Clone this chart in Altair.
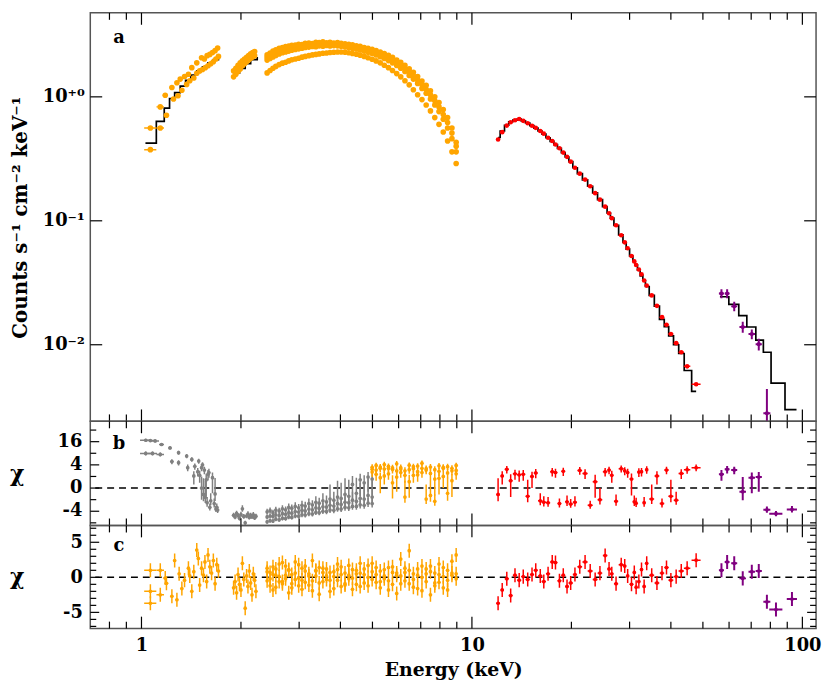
import altair as alt
import pandas as pd

# ---------------- panel a : folded spectra (counts s^-1 cm^-2 keV^-1) ----------------
low_a_E = [1.064, 1.14, 1.18, 1.236, 1.28, 1.31, 1.35, 1.387, 1.42, 1.47, 1.52, 1.55, 1.58, 1.61, 1.64, 1.67, 1.70]
low_a_F = [0.56, 0.83, 1.03, 1.19, 1.30, 1.39, 1.46, 1.52, 1.72, 1.88, 2.07, 2.02, 2.15, 2.20, 2.28, 2.36, 2.48]
low_a_xerr = [0.045, 0.03, 0.02, 0.015, 0.012, 0.012, 0.012, 0.012, 0.01, 0.01, 0.01, 0.01, 0.01, 0.01, 0.01, 0.01, 0.01]
low_b_E = [1.064, 1.14, 1.19, 1.25, 1.29, 1.325, 1.37, 1.40, 1.44, 1.47, 1.50, 1.53, 1.56, 1.59, 1.62, 1.65, 1.68, 1.71]
low_b_F = [0.375, 0.56, 0.71, 0.96, 1.02, 1.13, 1.26, 1.35, 1.42, 1.55, 1.62, 1.66, 1.72, 1.78, 1.85, 1.92, 2.02, 2.12]
low_b_xerr = [0.045, 0.03, 0.02, 0.015, 0.012, 0.012, 0.012, 0.012, 0.01, 0.01, 0.01, 0.01, 0.01, 0.01, 0.01, 0.01, 0.01, 0.01]

mid_E = [1.90, 1.93, 1.96, 1.99, 2.02, 2.05, 2.08, 2.11, 2.14, 2.17, 2.20]
mid_a_F = [1.62, 1.70, 1.80, 1.88, 1.95, 2.02, 2.08, 2.15, 2.22, 2.28, 2.32]
mid_b_F = [1.45, 1.52, 1.60, 1.68, 1.78, 1.85, 1.92, 1.98, 2.05, 2.10, 2.15]

main_E = [2.40, 2.45, 2.50, 2.55, 2.61, 2.67, 2.73, 2.79, 2.85, 2.92, 2.99, 3.06, 3.13, 3.21, 3.29, 3.37,
          3.45, 3.54, 3.63, 3.72, 3.82, 3.92, 4.02, 4.13, 4.24, 4.35, 4.47, 4.59, 4.72, 4.85, 4.99, 5.13,
          5.28, 5.43, 5.59, 5.75, 5.92, 6.09, 6.27, 6.46, 6.65, 6.85, 7.06, 7.27, 7.49, 7.72, 7.95, 8.19,
          8.44, 8.70, 8.96]
main_a_F = [2.18, 2.26, 2.34, 2.40, 2.46, 2.50, 2.54, 2.57, 2.60, 2.62, 2.66, 2.64, 2.70, 2.72, 2.69, 2.75,
            2.74, 2.78, 2.73, 2.76, 2.72, 2.74, 2.70, 2.68, 2.66, 2.63, 2.58, 2.56, 2.50, 2.46, 2.42, 2.36,
            2.30, 2.24, 2.16, 2.08, 1.98, 1.90, 1.80, 1.68, 1.58, 1.46, 1.34, 1.24, 1.12, 1.00, 0.90, 0.79,
            0.68, 0.56, 0.43]
main_d_F = [2.08, 2.17, 2.22, 2.30, 2.33, 2.40, 2.42, 2.47, 2.49, 2.53, 2.55, 2.57, 2.60, 2.63, 2.62, 2.66,
            2.65, 2.69, 2.66, 2.68, 2.65, 2.67, 2.63, 2.61, 2.58, 2.56, 2.51, 2.48, 2.42, 2.38, 2.33, 2.27,
            2.20, 2.14, 2.06, 1.98, 1.89, 1.80, 1.70, 1.59, 1.48, 1.37, 1.26, 1.15, 1.04, 0.93, 0.83, 0.72,
            0.62, 0.51, 0.40]
main_b_F = [1.98, 2.04, 2.10, 2.16, 2.22, 2.27, 2.30, 2.34, 2.38, 2.41, 2.44, 2.47, 2.50, 2.52, 2.55, 2.54,
            2.58, 2.56, 2.60, 2.57, 2.59, 2.58, 2.56, 2.53, 2.50, 2.47, 2.43, 2.39, 2.34, 2.29, 2.24, 2.18,
            2.11, 2.04, 1.96, 1.88, 1.79, 1.70, 1.60, 1.49, 1.39, 1.28, 1.17, 1.07, 0.96, 0.86, 0.76, 0.66,
            0.56, 0.46, 0.36]
main_c_F = [1.56, 1.63, 1.70, 1.76, 1.82, 1.87, 1.90, 1.95, 1.99, 2.02, 2.05, 2.09, 2.12, 2.15, 2.18, 2.20,
            2.22, 2.25, 2.26, 2.28, 2.29, 2.30, 2.30, 2.29, 2.27, 2.24, 2.21, 2.17, 2.12, 2.07, 2.01, 1.95,
            1.88, 1.80, 1.72, 1.63, 1.54, 1.45, 1.35, 1.25, 1.14, 1.04, 0.95, 0.86, 0.77, 0.68, 0.60, 0.52,
            0.44, 0.36, 0.29]

red_E = [12.0, 12.35, 12.75, 13.1, 13.5, 13.9, 14.3, 14.75, 15.2, 15.6, 16.1, 16.5, 17.0, 17.5, 17.9, 18.4,
         18.9, 19.4, 19.9, 20.5, 21.2, 22.0, 22.8, 23.6, 24.4, 25.3, 26.0, 26.5, 27.3, 28.3, 29.0, 29.6,
         30.4, 31.0, 31.4, 32.0, 32.6, 33.2, 33.8, 35.0, 36.3, 37.6, 38.8, 40.0, 41.5, 43.0, 44.8, 47.7]
red_F = [0.453, 0.519, 0.586, 0.624, 0.648, 0.663, 0.640, 0.612, 0.585, 0.562, 0.530, 0.505, 0.468, 0.440,
         0.413, 0.385, 0.355, 0.328, 0.300, 0.268, 0.240, 0.215, 0.190, 0.167, 0.148, 0.130, 0.115, 0.105,
         0.092, 0.0765, 0.067, 0.060, 0.052, 0.047, 0.044, 0.0405, 0.037, 0.033, 0.030, 0.025, 0.0206,
         0.0167, 0.0145, 0.0122, 0.0103, 0.0087, 0.0067, 0.0048]
red_xerr = [0.15, 0.15, 0.18, 0.18, 0.2, 0.2, 0.2, 0.22, 0.22, 0.22, 0.25, 0.25, 0.25, 0.25, 0.25, 0.25,
            0.25, 0.25, 0.3, 0.3, 0.35, 0.4, 0.4, 0.4, 0.4, 0.4, 0.3, 0.3, 0.4, 0.5, 0.3, 0.3,
            0.4, 0.3, 0.2, 0.3, 0.3, 0.3, 0.3, 0.6, 0.6, 0.6, 0.6, 0.7, 0.7, 0.8, 1.0, 1.5]
red_model_F = [0.47, 0.53, 0.59, 0.63, 0.65, 0.66, 0.64, 0.615, 0.585, 0.56, 0.53, 0.50, 0.468, 0.438,
               0.412, 0.384, 0.355, 0.327, 0.300, 0.268, 0.240, 0.214, 0.190, 0.168, 0.148, 0.130, 0.116,
               0.105, 0.092, 0.077, 0.067, 0.059, 0.052, 0.047, 0.044, 0.040, 0.036, 0.033, 0.0295, 0.025,
               0.0205, 0.0160, 0.0140, 0.0118, 0.0100, 0.0085, 0.0062, 0.0042]

pur_E = [56.9, 59.2, 62.2, 66.0, 70.3, 73.8, 78.1, 83.2, 93.0]
pur_F = [0.0259, 0.0259, 0.0204, 0.0139, 0.0122, 0.0101, 0.0028, 0.0016, 0.0012]
pur_Ferr = [0.0022, 0.0022, 0.0018, 0.0014, 0.0011, 0.0011, 0.0016, 0.0007, 0.0005]
pur_xerr = [1.0, 1.0, 1.3, 1.5, 1.6, 1.6, 1.9, 3.8, 3.3]

low_model_E = [1.028, 1.109, 1.172, 1.216, 1.26, 1.31, 1.36, 1.41, 1.47, 1.53, 1.59, 1.65, 1.71]
low_model_F = [0.424, 0.635, 0.81, 0.97, 1.08, 1.22, 1.36, 1.50, 1.62, 1.75, 1.88, 2.00, 2.10]
mid_model_E = [1.90, 1.98, 2.06, 2.14, 2.24]
mid_model_F = [1.55, 1.70, 1.85, 2.00, 2.10]
pur_model_E = [56.3, 59.9, 64.2, 67.9, 72.3, 76.2, 80.4, 88.6, 96.0]
pur_model_F = [0.0244, 0.0212, 0.0172, 0.0139, 0.0109, 0.0087, 0.0049, 0.0030, 0.0030]

# ---------------- panel b : residuals (chi), sqrt-like scale ----------------
b_low_E = [1.03, 1.064, 1.10, 1.15, 1.22, 1.295, 1.37, 1.42, 1.49, 1.52, 1.59, 1.67, 1.69,
           1.03, 1.08, 1.14, 1.236, 1.295, 1.38, 1.44, 1.52, 1.56, 1.61,
           1.45, 1.48, 1.50, 1.53, 1.55, 1.57, 1.60, 1.62, 1.64, 1.66, 1.68, 1.70, 1.54, 1.58]
b_low_chi = [17.0, 16.8, 16.5, 14.1, 12.0, 9.3, 7.6, 6.1, 5.4, 3.1, 1.43, -0.26, -2.75,
             8.9, 8.9, 8.4, 5.2, 4.8, 3.1, 1.1, 0.0, -0.64, -2.75,
             3.5, 2.0, 1.2, 4.0, 2.4, 0.5, 1.8, -1.2, 0.8, -1.8, -3.3, -3.6, -0.3, -1.6]
b_low_xerr = [0.04, 0.035, 0.03, 0.02, 0.015, 0.012, 0.012, 0.01, 0.01, 0.01, 0.01, 0.01, 0.01,
              0.04, 0.035, 0.03, 0.015, 0.012, 0.012, 0.01, 0.01, 0.01, 0.01,
              0.01, 0.01, 0.01, 0.01, 0.01, 0.01, 0.01, 0.01, 0.01, 0.01, 0.01, 0.01, 0.01, 0.01]
chi_mid_E = [1.90, 1.92, 1.94, 1.96, 1.98, 2.00, 2.02, 2.04, 2.06, 2.08, 2.10, 2.12, 2.14, 2.16, 2.18, 2.20, 2.22]
b_mid_chi = [-5.5, -6.2, -4.8, -5.6, -6.8, -5.2, -3.2, -6.0, -9.0, -5.8, -5.0, -6.4, -5.5, -6.1, -5.3, -6.6, -5.9]
b_gray_1 = [-4.2, -3.8, -4.5, -3.6, -3.9, -3.2, -3.5, -2.8, -3.0, -2.5, -2.9, -2.2, -2.4, -1.8, -2.1, -1.5,
            -1.7, -1.2, -1.4, -0.9, -1.1, -0.6, -0.8, -0.3, -0.5, 0.1, -0.2, 0.5, 0.2, 0.9, 0.6]
b_gray_2 = [-6.2, -5.8, -6.0, -5.3, -5.6, -4.9, -5.1, -4.5, -4.7, -4.1, -4.3, -3.7, -3.9, -3.3, -3.5, -2.9,
            -3.1, -2.6, -2.7, -2.2, -2.4, -1.8, -2.0, -1.5, -1.6, -1.1, -1.3, -0.8, -0.9, -0.4, -0.6]
b_gray_3 = [-8.5, -7.9, -8.1, -7.2, -7.5, -6.8, -6.9, -6.2, -6.4, -5.8, -5.9, -5.3, -5.4, -4.9, -5.0, -4.4,
            -4.5, -4.0, -4.1, -3.6, -3.7, -3.2, -3.3, -2.8, -2.9, -2.5, -2.5, -2.1, -2.2, -1.7, -1.8]
b_or_1 = [3.2, 3.8, 2.9, 4.1, 3.5, 2.6, 4.4, 3.1, 1.2, 3.9, 2.8, 3.6, 4.6, 2.4, 3.3, 0.6, 3.7, 2.9, 3.4, 2.2, 3.8]
b_or_2 = [1.9, 2.4, 0.8, 2.7, 1.5, 0.2, 2.2, 1.8, -0.6, 2.5, 1.2, 2.0, 2.9, -0.9, 1.6, -1.3, 2.1, 1.0, 1.7, 0.4, 2.3]
b_or_3 = [2.6, 1.4, 3.3, 1.1, 2.9, 3.0, 0.9, 2.7, 2.2, 0.3, 3.4, 1.3, 1.8, 2.8, -0.4, 2.5, 0.7, 3.2, -0.2, 2.9, 1.5]
b_red_chi = [-0.3, 1.1, 2.6, 0.4, 1.5, 1.3, 1.4, -0.5, 1.0, 1.7, -1.2, -1.5, -1.6, 2.0, 1.8, -1.8,
             2.1, -1.4, -1.9, -1.5, 2.3, 1.6, -2.2, 0.3, -1.0, 2.0, 2.4, 1.2, -1.3, 2.8, 2.2, 1.8,
             0.6, -1.4, -1.7, 1.9, 2.0, -1.6, 2.5, -0.9, 1.1, -1.8, 2.4, -0.5, -1.1, 1.6, 2.5, 3.1]
b_pur_chi = [1.4, 2.6, 2.4, -0.1, 0.8, 0.9, -3.5, -4.9, -3.4]
b_tick_values = [16, 4, 0, -4]
b_tick_labels = ["16", "4", "0", "-4"]

# ---------------- panel c : residuals (chi), linear ----------------
c_low_E = [1.064, 1.064, 1.064, 1.14, 1.14, 1.18, 1.19, 1.236, 1.26, 1.28, 1.30, 1.325, 1.35, 1.387, 1.40, 1.42,
           1.44, 1.47, 1.486, 1.50, 1.52, 1.54, 1.556, 1.575, 1.59, 1.61, 1.63, 1.65, 1.67, 1.69, 1.71]
c_low_chi = [1.0, -2.0, -3.7, 1.0, -2.5, -0.1, -0.85, -2.7, 2.4, -3.2, 0.5, -1.6, -0.4, 1.3, 0.2, -2.0,
             0.8, 3.9, 2.7, -1.1, 1.3, 0.3, 2.2, -0.6, 3.2, 1.5, 0.6, 2.4, -0.9, 1.8, 0.9]
c_low_xerr = [0.045, 0.045, 0.045, 0.03, 0.03, 0.015, 0.015, 0.012, 0.012, 0.012, 0.01, 0.01, 0.01, 0.01, 0.01, 0.01,
              0.01, 0.01, 0.01, 0.01, 0.01, 0.01, 0.01, 0.01, 0.01, 0.01, 0.01, 0.01, 0.01, 0.01, 0.01]
c_mid_chi = [-1.5, -0.6, -2.2, 0.4, -1.0, -1.8, 2.0, -0.3, -4.4, 0.2, -1.3, 0.9, -0.8, -2.5, 0.5, -0.4, -2.0]
c_main_1 = [0.8, -1.2, 1.5, 0.3, -0.6, 2.1, -0.2, 1.0, -1.5, 0.6, 1.8, -0.4, 0.9, -1.1, 2.4, 0.2, -0.8, 1.3,
            -0.3, 0.7, -1.6, 1.1, 0.4, -0.9, 1.7, -0.1, 0.5, -1.3, 1.2, 0.0, 2.0, -0.7, 0.9, -0.2, 1.4, -1.0,
            0.6, 2.6, -0.5, 1.0, -1.4, 0.3, 1.6, -0.6, 0.8, -1.2, 1.9, 0.1, -0.4, 2.3, 0.5]
c_main_2 = [-0.5, 0.7, -1.8, 1.2, 0.1, -0.9, 1.6, -2.2, 0.4, -0.3, -1.2, 1.3, -0.7, 0.5, -1.9, 0.9, 1.4, -0.6,
            0.2, -2.0, 0.8, -0.4, 1.5, -1.1, 0.3, -1.7, 1.0, 0.6, -0.8, 1.7, -0.3, 0.4, -1.5, 1.1, -0.5, 0.7,
            -2.3, 0.2, 1.3, -0.9, 0.5, -1.6, 0.0, 1.2, -2.5, 0.6, -0.7, 1.4, -1.8, 0.3, -0.2]
c_main_3 = [1.3, -0.2, 0.4, -1.4, 1.9, -0.6, 0.3, 1.1, -0.9, 2.2, -0.1, -1.7, 1.6, 0.2, -0.5, 1.0, -2.4, 0.7,
            1.2, -0.4, 0.1, 1.9, -1.3, 0.6, -0.2, 1.1, -1.0, 2.0, 0.4, -1.2, 0.8, 1.4, -0.6, 0.2, -1.8, 1.5,
            0.3, -0.9, 0.7, 3.8, -0.3, 1.2, -1.9, 0.5, 1.6, -0.8, 0.4, -1.5, 1.0, 0.6, 3.2]
c_red_chi = [-3.7, -1.8, -0.2, -2.6, 0.3, -0.4, 0.1, -0.3, 0.4, 1.0, 0.2, -0.6, 0.5, 2.2, 2.1, -0.5,
             0.3, -1.3, -0.8, 0.4, 1.5, 2.2, 0.9, -0.3, 0.6, 3.1, 1.2, 0.5, -0.9, 1.8, 1.6, 0.2,
             -1.0, 0.7, -1.4, -0.6, 1.1, -1.3, 2.0, 0.3, -0.8, 0.6, 1.4, -0.4, 0.1, 0.9, 1.3, 2.45]
c_pur_chi = [1.0, 2.2, 2.0, -0.15, 0.8, 0.9, -3.5, -4.6, -3.1]

# ---------------- axis tick positions ----------------
XMAJ = [1, 10, 100]
XMIN = [0.8, 0.9, 2, 3, 4, 5, 6, 7, 8, 9, 20, 30, 40, 50, 60, 70, 80, 90]

ORANGE, GRAY, RED, PURPLE = "#FFA500", "#808080", "#FF0000", "#800080"
FONT = "DejaVu Serif"
W = 732
H_TOP, H_MID, H_BOT = 412, 105, 104

xs = alt.Scale(type="log", domain=[0.7, 110], nice=False)
ys_top = alt.Scale(type="log", domain=[0.00241, 4.76], nice=False)
ys_mid = alt.Scale(type="sqrt", domain=[-10.4, 33.1], nice=False)
ys_bot = alt.Scale(type="linear", domain=[-7.31, 7.4], nice=False)

NOAX = {"axis": None}   # x axis hidden in panels a and b
DEFAX = {}              # leave axis to the panel's axis layer


def df_of(E, V, xerr=None, verr=None):
    d = pd.DataFrame({"E": E, "V": V})
    if xerr is not None:
        xe = pd.Series(xerr, dtype=float)
        d["Elo"] = d["E"] - xe
        d["Ehi"] = d["E"] + xe
    if verr is not None:
        ve = verr if isinstance(verr, (int, float)) else pd.Series(verr, dtype=float)
        d["lo"] = d["V"] - ve
        d["hi"] = d["V"] + ve
    return d


def points(d, color, ys, size, xa, bw=1.5):
    out = []
    base = alt.Chart(d)
    if "lo" in d.columns:
        out.append(base.mark_rule(color=color, strokeWidth=bw, clip=True).encode(
            x=alt.X("E:Q", scale=xs, **xa),
            y=alt.Y("lo:Q", scale=ys), y2="hi:Q"))
    if "Elo" in d.columns:
        out.append(base.mark_rule(color=color, strokeWidth=bw, clip=True).encode(
            x=alt.X("Elo:Q", scale=xs, **xa), x2="Ehi:Q",
            y=alt.Y("V:Q", scale=ys)))
    out.append(base.mark_circle(color=color, size=size, opacity=1, clip=True).encode(
        x=alt.X("E:Q", scale=xs, **xa), y=alt.Y("V:Q", scale=ys)))
    return out


def model(E, F, interp):
    return alt.Chart(pd.DataFrame({"E": E, "F": F})).mark_line(
        color="black", strokeWidth=1.7, interpolate=interp, clip=True).encode(
        x=alt.X("E:Q", scale=xs, axis=None), y=alt.Y("F:Q", scale=ys_top))


def axis_layer(ys, y0, yaxis, xaxis):
    return alt.Chart(pd.DataFrame({"ax": [1.0], "ay": [y0]})).mark_point(opacity=0).encode(
        x=alt.X("ax:Q", scale=xs, axis=xaxis), y=alt.Y("ay:Q", scale=ys, axis=yaxis))


TICK = dict(color="black", strokeWidth=1.2)


def ticks(H, ys, ymaj, ymin, ylen, xa):
    L = []
    for vals, ln in ((XMAJ, 12), (XMIN, 7)):
        src = alt.Chart(pd.DataFrame({"t": vals}))
        L.append(src.mark_rule(**TICK).encode(
            x=alt.X("t:Q", scale=xs, **xa), y=alt.value(H), y2=alt.value(H - ln)))
        L.append(src.mark_rule(**TICK).encode(
            x=alt.X("t:Q", scale=xs, **xa), y=alt.value(0), y2=alt.value(ln)))
    for vals, ln in ((ymaj, ylen[0]), (ymin, ylen[1])):
        if not vals:
            continue
        src = alt.Chart(pd.DataFrame({"t": vals}))
        L.append(src.mark_rule(**TICK).encode(
            y=alt.Y("t:Q", scale=ys), x=alt.value(0), x2=alt.value(ln)))
        L.append(src.mark_rule(**TICK).encode(
            y=alt.Y("t:Q", scale=ys), x=alt.value(W), x2=alt.value(W - ln)))
    return L


def zero_line(ys):
    return alt.Chart(pd.DataFrame({"z": [0]})).mark_rule(
        color="black", strokeWidth=1.5, strokeDash=[7, 5]).encode(y=alt.Y("z:Q", scale=ys))


def letter(t, y):
    return alt.Chart(pd.DataFrame({"t": [t]})).mark_text(
        font=FONT, fontWeight="bold", fontSize=18, align="center", baseline="middle", color="black").encode(
        text="t:N", x=alt.value(29), y=alt.value(y))


def side_labels(vals, texts, ys):
    return alt.Chart(pd.DataFrame({"t": vals, "s": texts})).mark_text(
        font=FONT, fontWeight="bold", fontSize=18, align="right", baseline="middle", color="black").encode(
        y=alt.Y("t:Q", scale=ys), x=alt.value(-8), text="s:N")


LBL = dict(labelFont=FONT, labelFontWeight="bold", labelFontSize=18, labelColor="black",
           ticks=False, tickSize=0, domain=False, grid=False, labelOverlap=False)

ax_top = alt.Axis(values=[0.01, 0.1, 1],
                  labelExpr="datum.value > 0.5 ? '10⁺⁰' : (datum.value > 0.05 ? '10⁻¹' : '10⁻²')",
                  labelPadding=6, minExtent=56, maxExtent=56,
                  title="Counts s⁻¹ cm⁻² keV⁻¹", titleFont=FONT, titleFontWeight="bold",
                  titleFontSize=20, titleColor="black", titlePadding=4, **LBL)
chi_lab = "datum.value < 0 ? '-' + (-datum.value) : '' + datum.value"
ax_mid = alt.Axis(values=[0], labels=False, minExtent=56, maxExtent=56,
                  title="χ", titleFont=FONT, titleFontWeight="bold", titleFontSize=22, titleColor="black",
                  titleAngle=0, titleAlign="right", titleBaseline="middle", titlePadding=11, **LBL)
ax_bot = alt.Axis(values=[5, 0, -5], labelExpr=chi_lab, labelPadding=8, minExtent=56, maxExtent=56,
                  title="χ", titleFont=FONT, titleFontWeight="bold", titleFontSize=22, titleColor="black",
                  titleAngle=0, titleAlign="right", titleBaseline="middle", titlePadding=11, **LBL)
ax_x = alt.Axis(values=[1, 10, 100], labelExpr="'' + datum.value", labelPadding=8, orient="bottom",
                title="Energy (keV)", titleFont=FONT, titleFontWeight="bold", titleFontSize=19,
                titleColor="black", titlePadding=6, **LBL)

# ---------------- panel a ----------------
top_layers = [
    axis_layer(ys_top, 1.0, ax_top, None),
    model(low_model_E, low_model_F, "step-after"),
    model(mid_model_E, mid_model_F, "step-after"),
    model(red_E, red_model_F, "step"),
    model(pur_model_E, pur_model_F, "step-after"),
]
top_layers += points(df_of(low_a_E, low_a_F, low_a_xerr), ORANGE, ys_top, 32, NOAX)
top_layers += points(df_of(low_b_E, low_b_F, low_b_xerr), ORANGE, ys_top, 32, NOAX)
top_layers += points(pd.concat([df_of(mid_E, mid_a_F), df_of(mid_E, mid_b_F),
                                df_of(main_E, main_a_F), df_of(main_E, main_d_F),
                                df_of(main_E, main_b_F), df_of(main_E, main_c_F)]), ORANGE, ys_top, 32, NOAX)
top_layers += points(df_of(red_E, red_F, red_xerr), RED, ys_top, 22, NOAX)
top_layers += points(df_of(pur_E, pur_F, pur_xerr, pur_Ferr), PURPLE, ys_top, 18, NOAX, bw=2)
top_layers += ticks(H_TOP, ys_top, [0.01, 0.1, 1], [], (12, 7), NOAX)
top_layers.append(letter("a", 25))
top = alt.layer(*top_layers).properties(width=W, height=H_TOP)

# ---------------- panel b ----------------
g_E = main_E[:31]
o_E = main_E[30:]
mid_layers = [axis_layer(ys_mid, 0.0, ax_mid, None), zero_line(ys_mid)]
mid_layers += points(pd.concat([df_of(b_low_E, b_low_chi, b_low_xerr, 1),
                                df_of(chi_mid_E, b_mid_chi, None, 1),
                                df_of(g_E, b_gray_1, None, 1), df_of(g_E, b_gray_2, None, 1),
                                df_of(g_E, b_gray_3, None, 1)]), GRAY, ys_mid, 14, NOAX)
mid_layers += points(pd.concat([df_of(o_E, b_or_1, None, 1), df_of(o_E, b_or_2, None, 1),
                                df_of(o_E, b_or_3, None, 1)]), ORANGE, ys_mid, 14, NOAX)
mid_layers += points(df_of(red_E, b_red_chi, red_xerr, 1), RED, ys_mid, 14, NOAX)
mid_layers += points(df_of(pur_E, b_pur_chi, pur_xerr, 1), PURPLE, ys_mid, 14, NOAX, bw=2)
mid_layers += ticks(H_MID, ys_mid, [16, 4, 0, -4], [25, 9, 1, -1, -9], (9, 6), NOAX)
mid_layers.append(side_labels(b_tick_values, b_tick_labels, ys_mid))
mid_layers.append(letter("b", 23))
mid = alt.layer(*mid_layers).properties(width=W, height=H_MID)

# ---------------- panel c ----------------
bot_layers = [axis_layer(ys_bot, 0.0, ax_bot, ax_x), zero_line(ys_bot)]
bot_layers += points(pd.concat([df_of(c_low_E, c_low_chi, c_low_xerr, 1),
                                df_of(chi_mid_E, c_mid_chi, None, 1),
                                df_of(main_E, c_main_1, None, 1), df_of(main_E, c_main_2, None, 1),
                                df_of(main_E, c_main_3, None, 1)]), ORANGE, ys_bot, 14, DEFAX)
bot_layers += points(df_of(red_E, c_red_chi, red_xerr, 1), RED, ys_bot, 14, DEFAX)
bot_layers += points(df_of(pur_E, c_pur_chi, pur_xerr, 1), PURPLE, ys_bot, 14, DEFAX, bw=2)
bot_layers += ticks(H_BOT, ys_bot, [5, 0, -5], [-7, -6, -4, -3, -2, -1, 1, 2, 3, 4, 6, 7], (9, 6), DEFAX)
bot_layers.append(letter("c", 21))
bot = alt.layer(*bot_layers).properties(width=W, height=H_BOT)

chart = (alt.vconcat(top, mid, bot, spacing=0, bounds="flush")
         .properties(padding=0, background="white")
         .configure(font=FONT)
         .configure_view(stroke="#555555", strokeWidth=1.5))

chart.save("out.html", embed_options={"renderer": "svg", "actions": False})
